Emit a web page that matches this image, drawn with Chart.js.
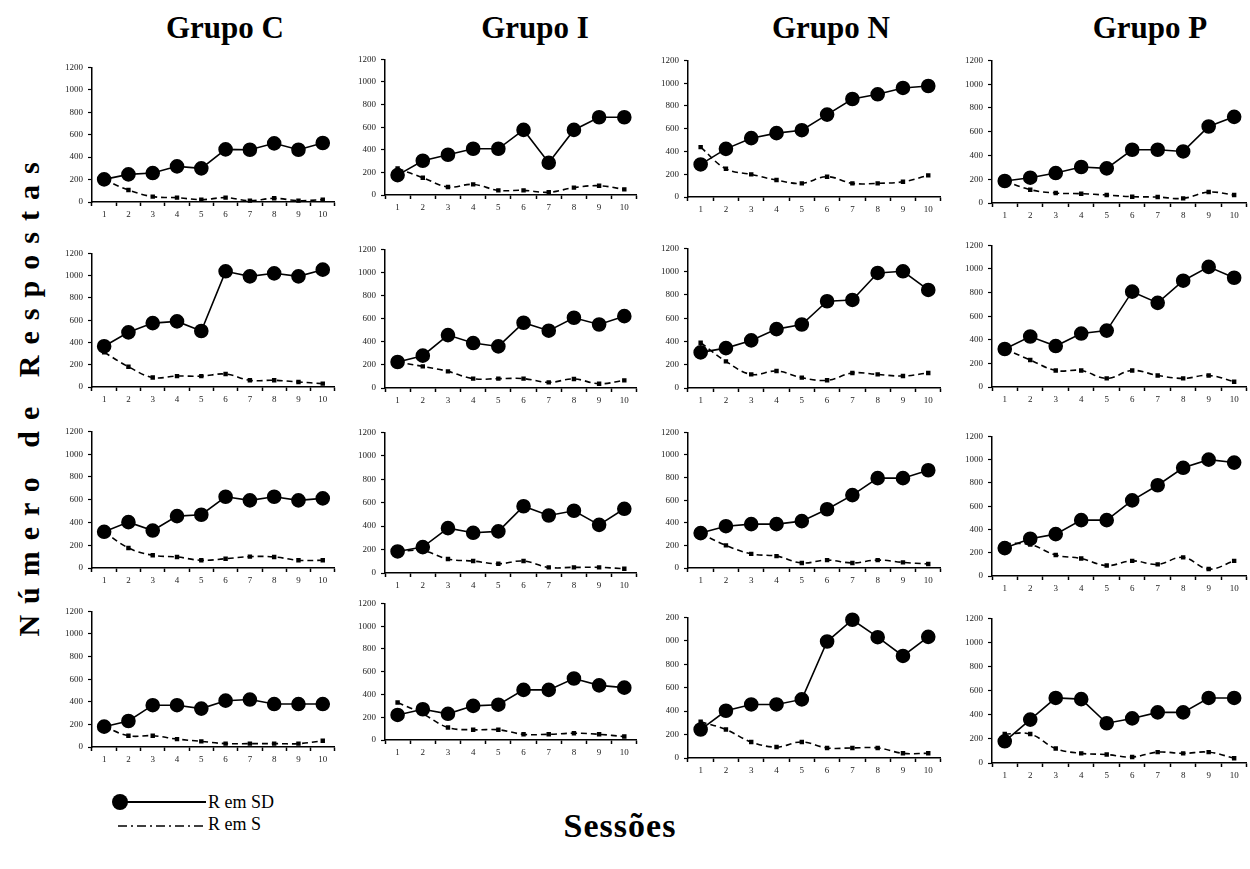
<!DOCTYPE html>
<html>
<head>
<meta charset="utf-8">
<script src="https://cdn.jsdelivr.net/npm/chart.js@4/dist/chart.umd.min.js"></script>
<style>
  body { margin: 0; width: 1250px; height: 869px; background: #fff; position: relative; overflow: hidden;
         font-family: "Liberation Serif", "Times New Roman", serif; color: #000; }
  canvas { position: absolute; }
  .titulo { position: absolute; top: 10px; font-weight: bold; font-size: 31px; transform: translateX(-50%); white-space: nowrap; }
  #eixoY { position: absolute; left: 29px; top: 394px; font-weight: bold; font-size: 30px; white-space: nowrap; letter-spacing: 11px;
           transform: translate(-50%, -50%) rotate(-90deg); }
  #eixoX { position: absolute; left: 620px; top: 807px; font-weight: bold; font-size: 34px; letter-spacing: 1px; transform: translateX(-50%); }
  #legenda { position: absolute; left: 108px; top: 791px; font-size: 18px; font-family: "Liberation Serif", "Times New Roman", serif; }
  #legenda div { display: flex; align-items: center; height: 22px; }
  #legenda span { margin-left: 2px; }
</style>
</head>
<body>

<div class="titulo" style="left:225px">Grupo C</div>
<div class="titulo" style="left:535px">Grupo I</div>
<div class="titulo" style="left:831px">Grupo N</div>
<div class="titulo" style="left:1150px">Grupo P</div>
<div id="eixoY">Número de Respostas</div>
<div id="eixoX">Sessões</div>
<div id="legenda">
  <div><svg width="98" height="22"><line x1="12" y1="11" x2="98" y2="11" stroke="#000" stroke-width="2"/><circle cx="12" cy="11" r="8" fill="#000"/></svg><span>R em SD</span></div>
  <div><svg width="98" height="22"><line x1="10" y1="13" x2="98" y2="13" stroke="#000" stroke-width="1.6" stroke-dasharray="9,4,2,4"/></svg><span>R em S</span></div>
</div>

<script>
const sessoes = ['1', '2', '3', '4', '5', '6', '7', '8', '9', '10'];

// R em SD / R em S, one row per subject (top to bottom)
const sdC = [
  [202, 246, 258, 318, 300, 469, 466, 523, 466, 526],
  [366, 491, 574, 589, 503, 1039, 994, 1021, 994, 1054],
  [318, 403, 329, 456, 468, 626, 594, 626, 594, 612],
  [180, 230, 370, 370, 340, 410, 420, 380, 380, 380]
];
const sC = [
  [200, 107, 48, 39, 21, 39, 12, 33, 12, 21],
  [312, 182, 86, 98, 98, 116, 60, 60, 45, 30],
  [318, 176, 112, 97, 68, 82, 100, 97, 68, 68],
  [180, 100, 100, 70, 50, 30, 30, 30, 30, 55]
];
const sdI = [
  [176, 303, 356, 409, 409, 576, 285, 576, 688, 688],
  [225, 280, 458, 389, 360, 565, 496, 608, 550, 622],
  [184, 221, 383, 343, 355, 570, 491, 531, 411, 548],
  [220, 270, 230, 300, 310, 440, 440, 540, 480, 460]
];
const sI = [
  [235, 153, 71, 94, 41, 41, 24, 65, 82, 50],
  [225, 187, 144, 81, 81, 81, 49, 78, 37, 66],
  [184, 190, 119, 102, 79, 102, 48, 48, 48, 37],
  [330, 230, 110, 90, 90, 50, 50, 60, 50, 30]
];
const sdN = [
  [286, 423, 517, 561, 587, 724, 861, 902, 958, 975],
  [306, 343, 409, 506, 546, 746, 757, 989, 1003, 843],
  [309, 370, 388, 388, 415, 520, 645, 795, 795, 865],
  [243, 403, 457, 457, 500, 994, 1180, 1031, 871, 1034]
];
const sN = [
  [438, 248, 199, 149, 120, 178, 120, 120, 134, 190],
  [389, 229, 117, 146, 89, 66, 129, 117, 103, 129],
  [305, 200, 125, 105, 45, 70, 45, 70, 50, 35],
  [309, 243, 137, 94, 137, 86, 86, 86, 40, 40]
];
const sdP = [
  [185, 213, 252, 303, 291, 448, 448, 434, 644, 725],
  [322, 428, 347, 453, 478, 808, 713, 901, 1018, 926],
  [240, 320, 360, 480, 480, 650, 780, 930, 1000, 975],
  [180, 360, 540, 530, 330, 370, 420, 420, 540, 540]
];
const sP = [
  [185, 112, 84, 78, 67, 53, 50, 39, 92, 67],
  [322, 229, 140, 140, 73, 140, 98, 73, 98, 45],
  [280, 270, 180, 150, 90, 130, 100, 160, 60, 130],
  [240, 240, 120, 80, 70, 50, 90, 80, 90, 40]
];

// plot area of each panel: left axis, right end, top (1200) and baseline (0)
const colunas = [
  { sd: sdC, s: sC, x: 92,  right: 337 },
  { sd: sdI, s: sI, x: 385, right: 639 },
  { sd: sdN, s: sN, x: 688, right: 943 },
  { sd: sdP, s: sP, x: 992, right: 1249 }
];
const alturas = [
  [[67, 202], [59, 195], [60, 197], [60, 203]],
  [[253, 387], [249, 388], [248, 388], [245, 387]],
  [[431, 568], [432, 573], [432, 568], [436, 576]],
  [[611, 747], [603, 740], [617, 758], [618, 763]]
];

const PAD_T = 10, PAD_R = 6, X_H = 24;
const fonte = '"Liberation Serif", "Times New Roman", serif';

function painel(col, lin) {
  const c = colunas[col];
  const [top, base] = alturas[lin][col];
  // the N panel on the last row has its tick labels cut at the left
  const yW = (col === 2 && lin === 3) ? 22 : 36;

  const canvas = document.createElement('canvas');
  const w = (c.right - c.x) + yW + PAD_R;
  const h = (base - top) + PAD_T + X_H;
  canvas.width = w;
  canvas.height = h;
  canvas.style.left = (c.x - yW) + 'px';
  canvas.style.top = (top - PAD_T) + 'px';
  document.body.appendChild(canvas);

  new Chart(canvas, {
    type: 'line',
    data: {
      labels: sessoes,
      datasets: [
        {
          label: 'R em SD',
          data: c.sd[lin],
          borderColor: '#000',
          backgroundColor: '#000',
          borderWidth: 1.6,
          pointRadius: 6.5,
          pointHoverRadius: 6.5,
          tension: 0,
          clip: false
        },
        {
          label: 'R em S',
          data: c.s[lin],
          borderColor: '#000',
          backgroundColor: '#000',
          borderWidth: 1.6,
          borderDash: [6, 4],
          pointStyle: 'rect',
          pointRadius: 2,
          pointHoverRadius: 2,
          tension: 0.4,
          clip: false
        }
      ]
    },
    options: {
      responsive: false,
      animation: false,
      events: [],
      layout: { padding: { top: PAD_T, right: PAD_R, left: 0, bottom: 0 } },
      plugins: { legend: { display: false }, tooltip: { enabled: false } },
      scales: {
        x: {
          offset: true,
          grid: { display: true, drawOnChartArea: false, offset: true, tickLength: 4, color: '#000', tickWidth: 1.5 },
          border: { color: '#000', width: 1.5 },
          ticks: { font: { family: fonte, size: 9 }, color: '#222', padding: 3, maxRotation: 0, autoSkip: false },
          afterFit(scale) { scale.height = X_H; }
        },
        y: {
          min: 0,
          max: 1200,
          grid: { display: true, drawOnChartArea: false, tickLength: 4, color: '#000', tickWidth: 1.2 },
          border: { color: '#000', width: 1.5 },
          ticks: { stepSize: 200, font: { family: fonte, size: 9 }, color: '#222', padding: 5, callback: v => String(v) },
          afterFit(scale) { scale.width = yW; }
        }
      }
    }
  });
}

for (let lin = 0; lin < 4; lin++) {
  for (let col = 0; col < 4; col++) {
    painel(col, lin);
  }
}
</script>
</body>
</html>
